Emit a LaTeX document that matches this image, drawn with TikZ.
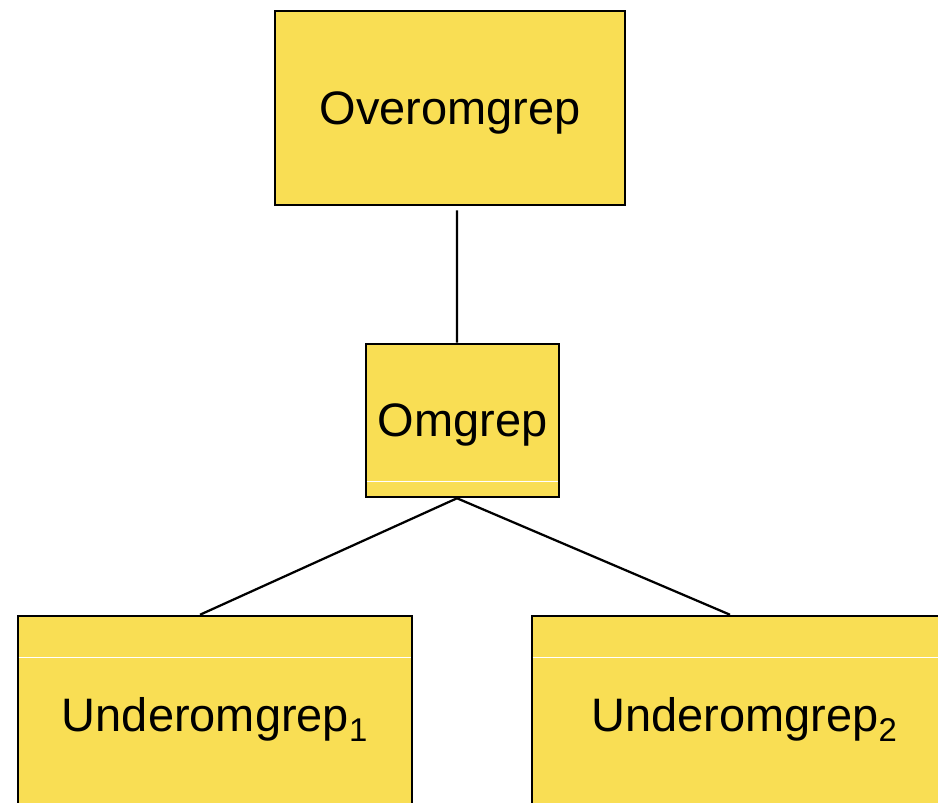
\documentclass[tikz,border=0pt]{standalone}
\usepackage{fontspec}
\setmainfont{Liberation Sans}
\usepackage{tikz}
\usetikzlibrary{calc}
\definecolor{omgGul}{HTML}{F9DE54}
\usetikzlibrary{positioning}

\begin{document}
\begin{tikzpicture}[font=\fontsize{33.4}{40}\selectfont,
    boks/.style={draw=black, fill=omgGul, line width=1.8pt, inner sep=0pt, text depth=0pt, align=center},
    kant/.style={black, line width=1.6pt},
    strek/.style={white, line width=0.6pt}]
    \useasboundingbox (0,0) rectangle (23.45,-20.075);
    \clip (0,0) rectangle (23.45,-20.075);
    % boksene
    \node[boks, minimum width=8.75cm, minimum height=4.85cm] (over) at (11.25,-2.7) {Overomgrep};
    \node[boks, minimum width=4.825cm, minimum height=3.825cm] (omgrep) at (11.5625,-10.5125) {Omgrep};
    \node[boks, minimum width=9.85cm, minimum height=4.9cm] (under1) at (5.375,-17.85) {Underomgrep\textsubscript{1}};
    \node[boks, minimum width=10.625cm, minimum height=4.9cm] (under2) at (18.6125,-17.85) {Underomgrep\textsubscript{2}};
    % tynne hvite streker
    \draw[strek] ([xshift=0.05cm, yshift=0.425cm]omgrep.south west) -- ([xshift=-0.05cm, yshift=0.425cm]omgrep.south east);
    \foreach \n in {under1, under2}
      \draw[strek] ([xshift=0.05cm, yshift=-1.075cm]\n.north west) -- ([xshift=-0.05cm, yshift=-1.075cm]\n.north east);
    % forbindelser
    \draw[kant] ([xshift=0.175cm, yshift=-0.1cm]over.south) -- ([xshift=-0.1375cm]omgrep.north);
    \draw[kant] ([xshift=-0.1375cm]omgrep.south) -- ([xshift=-0.375cm]under1.north);
    \draw[kant] ([xshift=-0.1375cm]omgrep.south) -- ([xshift=-0.3625cm]under2.north);
\end{tikzpicture}
\end{document}
